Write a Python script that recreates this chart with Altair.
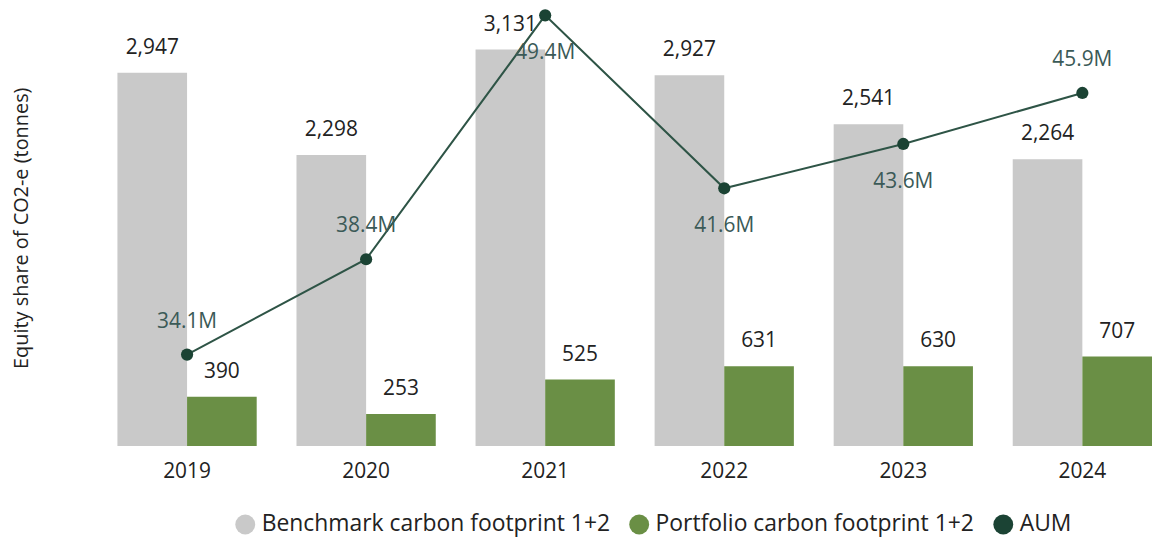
import altair as alt
import pandas as pd

years = ["2019", "2020", "2021", "2022", "2023", "2024"]
benchmark = [2947, 2298, 3131, 2927, 2541, 2264]
portfolio = [390, 253, 525, 631, 630, 707]
aum = [34.1, 38.4, 49.4, 41.6, 43.6, 45.9]

series_names = ["Benchmark carbon footprint 1+2", "Portfolio carbon footprint 1+2", "AUM"]
series_colors = ["#C9C9C9", "#6A8F45", "#1B4334"]
aum_above_years = ["2019", "2020", "2024"]

bars_df = pd.DataFrame(
    [{"year": y, "series": series_names[0], "value": v} for y, v in zip(years, benchmark)]
    + [{"year": y, "series": series_names[1], "value": v} for y, v in zip(years, portfolio)]
)
aum_df = pd.DataFrame({"year": years, "aum": aum, "series": "AUM"})

FONT = "Open Sans"

x_enc = alt.X(
    "year:N",
    sort=years,
    scale=alt.Scale(paddingInner=0.2222, paddingOuter=0),
    axis=alt.Axis(title=None, labelAngle=0, ticks=False, domain=False,
                  labelFontSize=21, labelFont=FONT, labelColor="#222222",
                  labelPadding=15),
)
xoff = alt.XOffset("series:N", sort=series_names[:2],
                   scale=alt.Scale(domain=series_names[:2], paddingInner=0, paddingOuter=0))
y_enc = alt.Y(
    "value:Q",
    scale=alt.Scale(domain=[0, 3448], nice=False),
    axis=alt.Axis(title="Equity share of CO2-e (tonnes)", labels=False, ticks=False,
                  domain=False, grid=False, titleFontSize=20, titleFont=FONT,
                  titleFontWeight="normal", titleColor="#222222", titlePadding=86),
)
color_enc = alt.Color(
    "series:N",
    scale=alt.Scale(domain=series_names, range=series_colors),
    legend=alt.Legend(title=None, orient="none", direction="horizontal",
                      legendX=117, legendY=506, symbolType="circle", symbolSize=400,
                      symbolStrokeWidth=0, symbolOpacity=1, labelFontSize=23,
                      labelFont=FONT, labelColor="#222222", columnPadding=17,
                      labelLimit=0, symbolOffset=0, labelOffset=5, padding=0),
)

bars = alt.Chart(bars_df).mark_bar(size=70).encode(
    x=x_enc, xOffset=xoff, y=y_enc, color=color_enc
)
bar_labels = alt.Chart(bars_df).mark_text(
    dy=-25, baseline="middle", fontSize=21, font=FONT, color="#222222"
).encode(
    x=alt.X("year:N", sort=years), xOffset=alt.XOffset("series:N", sort=series_names[:2]),
    y=alt.Y("value:Q"), text=alt.Text("value:Q", format=",")
)
left = alt.layer(bars, bar_labels)

y2 = alt.Y("aum:Q", scale=alt.Scale(domain=[29.972, 49.669], nice=False, zero=False), axis=None)
line = alt.Chart(aum_df).mark_line(color="#2E5446", strokeWidth=2).encode(
    x=alt.X("year:N", sort=years), y=y2
)
points = alt.Chart(aum_df).mark_point(filled=True, size=150, opacity=1, shape="circle").encode(
    x=alt.X("year:N", sort=years), y=y2,
    color=alt.Color("series:N", scale=alt.Scale(domain=series_names, range=series_colors))
)
aum_lab_above = alt.Chart(aum_df).transform_filter(
    alt.FieldOneOfPredicate(field="year", oneOf=aum_above_years)
).mark_text(dy=-33, baseline="middle", fontSize=21, font=FONT, color="#3B5A57").encode(
    x=alt.X("year:N", sort=years), y=y2,
    text=alt.Text("label:N")
).transform_calculate(label="format(datum.aum, '.1f') + 'M'")
aum_lab_below = alt.Chart(aum_df).transform_filter(
    ~alt.FieldOneOfPredicate(field="year", oneOf=aum_above_years)
).mark_text(dy=38, baseline="middle", fontSize=21, font=FONT, color="#3B5A57").encode(
    x=alt.X("year:N", sort=years), y=y2,
    text=alt.Text("label:N")
).transform_calculate(label="format(datum.aum, '.1f') + 'M'")
right = alt.layer(line, points, aum_lab_above, aum_lab_below)

chart = alt.layer(left, right).resolve_scale(y="independent").properties(
    width=1040, height=439,
    autosize=alt.AutoSizeParams(type="none"),
    padding={"left": 110, "top": 0, "right": 0, "bottom": 92},
).configure_view(stroke=None)

chart.save("out.html", embed_options={"renderer": "svg", "actions": False})
